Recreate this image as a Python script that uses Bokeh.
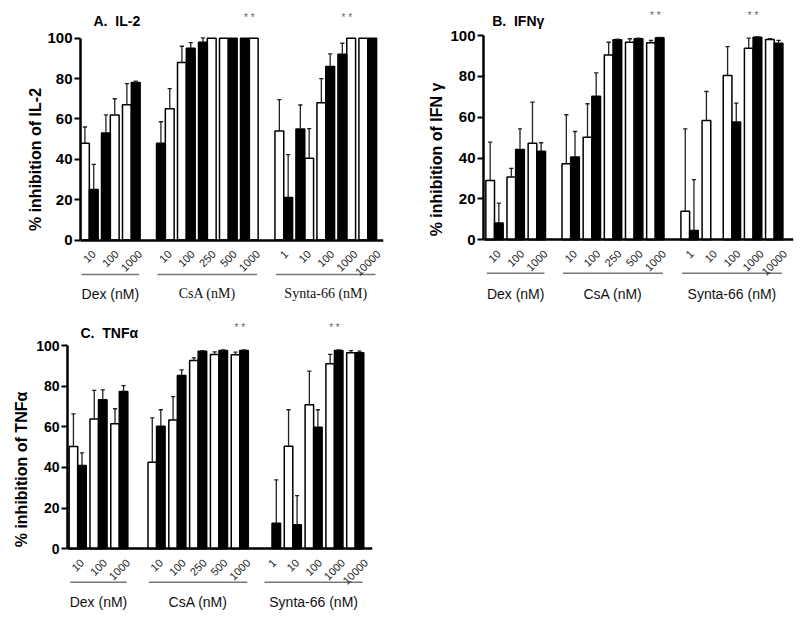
import math
from bokeh.plotting import figure
from bokeh.models import Range1d, FixedTicker
from bokeh.core.properties import value
from bokeh.layouts import column, row
from bokeh.embed import file_html
from bokeh.resources import INLINE

# ---------------- data ----------------
dex_conc = ["10", "100", "1000"]
csa_conc = ["10", "100", "250", "500", "1000"]
synta_conc = ["1", "10", "100", "1000", "10000"]
group_names = ["Dex (nM)", "CsA (nM)", "Synta-66 (nM)"]

# Panel A: IL-2  (open = white bars, filled = black bars)
il2_dex_open = [48, 62, 67]
il2_dex_filled = [25, 53, 78]
il2_dex_open_sd = [8, 8, 10.5]
il2_dex_filled_sd = [12.5, 9, 0.7]
il2_dex_open_first = [True, False, True]

il2_csa_open = [65, 88, 100, 100, 100]
il2_csa_filled = [48, 95, 98, 100, 100]
il2_csa_open_sd = [10, 8, 0, 0, 0]
il2_csa_filled_sd = [10.6, 2.8, 2.2, 0, 0]
il2_csa_open_first = [False, True, False, True, False]

il2_syn_open = [54, 40.5, 68, 100, 100]
il2_syn_filled = [21, 55, 86, 92, 100]
il2_syn_open_sd = [15.6, 14.7, 12, 0, 0]
il2_syn_filled_sd = [21.3, 11.9, 6.2, 5.5, 0]
il2_syn_open_first = [True, False, True, False, True]

# Panel B: IFN-gamma
ifn_dex_open = [29, 30.7, 47.3]
ifn_dex_filled = [8.2, 44.2, 43.4]
ifn_dex_open_sd = [18.8, 4.3, 20.1]
ifn_dex_filled_sd = [9.8, 10.1, 4.1]

ifn_csa_open = [37.2, 50.2, 90.5, 96.7, 96.4]
ifn_csa_filled = [40.5, 70.3, 97.9, 98.4, 98.9]
ifn_csa_open_sd = [24, 16.4, 6.2, 1.7, 1.2]
ifn_csa_filled_sd = [12.5, 11.4, 0.3, 0.3, 0.2]

ifn_syn_open = [14, 58.4, 80.4, 93.8, 98]
ifn_syn_filled = [4.6, None, 57.6, 99.2, 96.2]
ifn_syn_open_sd = [40.3, 14.2, 14.2, 4.9, 0.5]
ifn_syn_filled_sd = [24.9, 0, 9.3, 0.2, 1.4]

# Panel C: TNF-alpha
tnf_dex_open = [50.3, 63.9, 61.5]
tnf_dex_filled = [41, 73.3, 77.4]
tnf_dex_open_sd = [16.1, 14, 7.4]
tnf_dex_filled_sd = [6.2, 4.9, 2.9]

tnf_csa_open = [42.6, 63.4, 92.6, 95.6, 95.4]
tnf_csa_filled = [60.3, 85.2, 97.2, 97.5, 97.5]
tnf_csa_open_sd = [21.8, 11.5, 1.3, 1.3, 1.3]
tnf_csa_filled_sd = [8.1, 2.8, 0.3, 0.3, 0.3]

tnf_syn_open = [None, 50.5, 70.8, 91, 96.4]
tnf_syn_filled = [12.6, 11.8, 59.8, 97.5, 96.4]
tnf_syn_open_sd = [0, 17.9, 16.6, 4.6, 1.1]
tnf_syn_filled_sd = [21.3, 14.4, 8.6, 0.3, 0.8]

# significance marks: (group index, pair index)
stars = [(1, 4), (2, 3)]

SANS = "Liberation Sans"
SERIF = "Liberation Serif"


def grp(labels, o, f, osd, fsd, first=None):
    return dict(labels=labels, open=o, filled=f, open_sd=osd, filled_sd=fsd,
                open_first=first if first is not None else [True] * len(labels))


def build(title, ylabel, groups, lay, group_fonts):
    bw = lay["bw"]
    h, w, ml, mr = lay["h"], lay["w"], lay["ml"], lay["mr"]
    upp = 100.0 / (lay["p0"] - lay["p100"])          # data units per pixel (y)
    y_max = 100 + lay["p100"] * upp
    y_min = -(h - lay["p0"]) * upp
    xpp = lay["x_end"] / (w - ml - mr)               # data units per pixel (x)

    def yd(px):
        return 100 + (lay["p100"] - px) * upp

    def xd(px):
        return (px - ml) * xpp

    p = figure(width=w, height=h, output_backend="svg", toolbar_location=None,
               x_range=Range1d(0, lay["x_end"]), y_range=Range1d(y_min, y_max),
               min_border_left=ml, min_border_right=mr,
               min_border_top=0, min_border_bottom=0)
    p.outline_line_color = None
    p.grid.visible = False
    p.background_fill_color = "white"
    p.border_fill_color = "white"

    xo, yo, xf, yf = [], [], [], []
    ex, ey0, ey1 = [], [], []
    ticks, overrides = [], {}
    spans, pair_centers = [], []
    for g, G in enumerate(groups):
        start = lay["starts"][g]
        centers = []
        for k, lab in enumerate(G["labels"]):
            left = start + k
            if G["open_first"][k]:
                cx_o, cx_f = left + bw / 2, left + 1.5 * bw
            else:
                cx_f, cx_o = left + bw / 2, left + 1.5 * bw
            c = left + bw
            # rotated labels are anchored at their end; shift so the label is centred on the pair
            t = c + 0.354 * len(lab) * 6.12 * xpp
            ticks.append(t)
            overrides[t] = lab
            centers.append(c)
            for cx, val, sd, xs, ys in ((cx_o, G["open"][k], G["open_sd"][k], xo, yo),
                                        (cx_f, G["filled"][k], G["filled_sd"][k], xf, yf)):
                if val is None:
                    continue
                xs.append(cx)
                ys.append(val)
                if sd and sd > 0:
                    ex.append(cx)
                    ey0.append(val)
                    ey1.append(val + sd)
        spans.append((start, start + len(G["labels"]) - 1 + 2 * bw))
        pair_centers.append(centers)

    p.vbar(x=xo, top=yo, width=bw, fill_color="white", line_color="black", line_width=1.5)
    p.vbar(x=xf, top=yf, width=bw, fill_color="black", line_color="black", line_width=1.5)
    cap = 0.1
    p.segment(x0=ex, y0=ey0, x1=ex, y1=ey1, line_color="#222222", line_width=1.3)
    p.segment(x0=[x - cap for x in ex], y0=ey1, x1=[x + cap for x in ex], y1=ey1,
              line_color="#222222", line_width=1.3)

    yax = p.yaxis[0]
    yax.ticker = FixedTicker(ticks=[0, 20, 40, 60, 80, 100])
    yax.bounds = (0, 100)
    yax.axis_label = ylabel
    yax.axis_label_text_font = SANS
    yax.axis_label_text_font_style = "bold"
    yax.axis_label_text_font_size = "16px"
    yax.axis_label_text_color = "black"
    yax.axis_label_standoff = lay["yls"]
    yax.major_label_text_font = SANS
    yax.major_label_text_font_style = "bold"
    yax.major_label_text_font_size = lay["ytfs"]
    yax.major_label_text_color = "black"
    yax.major_label_standoff = 2
    yax.axis_line_width = 2.5
    yax.axis_line_color = "black"
    yax.major_tick_line_width = 2
    yax.major_tick_line_color = "black"
    yax.major_tick_out = 6
    yax.major_tick_in = 0
    yax.minor_tick_line_color = None

    xax = p.xaxis[0]
    xax.fixed_location = 0
    xax.ticker = FixedTicker(ticks=ticks)
    xax.major_label_overrides = overrides
    xax.major_label_orientation = math.pi / 4
    xax.major_label_text_font = SANS
    xax.major_label_text_font_size = "11px"
    xax.major_label_text_color = "#222222"
    xax.major_label_standoff = 6
    xax.major_tick_line_color = None
    xax.minor_tick_line_color = None
    xax.axis_line_width = 2.5
    xax.axis_line_color = "black"

    # panel title
    p.text(x=[xd(lay["tx"])], y=[yd(lay["ty"])], text=[title], text_font=value(SANS),
           text_font_style="bold", text_font_size="14px", text_color="black",
           text_align="left", text_baseline="middle")
    # significance stars
    p.text(x=[pair_centers[g][k] for g, k in stars], y=[yd(lay["sy"])] * len(stars),
           text=["* *"] * len(stars), text_font=value(SANS), text_font_size="10px",
           text_color="#666666", text_align="center", text_baseline="middle")
    # group brackets and names
    ly = yd(lay["ly"])
    p.segment(x0=[a + 0.05 for a, b in spans], y0=[ly] * len(spans),
              x1=[b - 0.05 for a, b in spans], y1=[ly] * len(spans),
              line_color="#777777", line_width=1.5)
    for g, (a, b) in enumerate(spans):
        p.text(x=[(a + b) / 2], y=[yd(lay["ny"])], text=[group_names[g]],
               text_font=value(group_fonts[g]), text_font_size="14px",
               text_color="#111111", text_align="center", text_baseline="middle")
    return p


layA = dict(w=400, h=318, ml=80, mr=17, p100=37.7, p0=239.5, x_end=14.43, bw=0.42,
            starts=[0.0, 3.62, 9.26], yls=0, ytfs="15px",
            tx=93, ty=20, sy=17, ly=274, ny=293)
layB = dict(w=400, h=318, ml=83, mr=7, p100=35, p0=239.3, x_end=14.65, bw=0.41,
            starts=[0.11, 3.71, 9.33], yls=2, ytfs="15px",
            tx=91.7, ty=20, sy=15.3, ly=272.7, ny=293)
layC = dict(w=400, h=302, ml=67, mr=28, p100=27, p0=230.3, x_end=14.66, bw=0.41,
            starts=[0.08, 3.87, 9.42], yls=3, ytfs="14px",
            tx=80, ty=14.3, sy=9, ly=263.7, ny=283.7)

pA = build("A.\u00a0 IL-2", "% inhibition of IL-2", [
    grp(dex_conc, il2_dex_open, il2_dex_filled, il2_dex_open_sd, il2_dex_filled_sd, il2_dex_open_first),
    grp(csa_conc, il2_csa_open, il2_csa_filled, il2_csa_open_sd, il2_csa_filled_sd, il2_csa_open_first),
    grp(synta_conc, il2_syn_open, il2_syn_filled, il2_syn_open_sd, il2_syn_filled_sd, il2_syn_open_first),
], layA, [SANS, SERIF, SERIF])

pB = build("B.\u00a0 IFNγ", "% inhibition of IFN γ", [
    grp(dex_conc, ifn_dex_open, ifn_dex_filled, ifn_dex_open_sd, ifn_dex_filled_sd),
    grp(csa_conc, ifn_csa_open, ifn_csa_filled, ifn_csa_open_sd, ifn_csa_filled_sd),
    grp(synta_conc, ifn_syn_open, ifn_syn_filled, ifn_syn_open_sd, ifn_syn_filled_sd),
], layB, [SANS, SANS, SANS])

pC = build("C.\u00a0 TNFα", "% inhibition of TNFα", [
    grp(dex_conc, tnf_dex_open, tnf_dex_filled, tnf_dex_open_sd, tnf_dex_filled_sd),
    grp(csa_conc, tnf_csa_open, tnf_csa_filled, tnf_csa_open_sd, tnf_csa_filled_sd),
    grp(synta_conc, tnf_syn_open, tnf_syn_filled, tnf_syn_open_sd, tnf_syn_filled_sd),
], layC, [SANS, SANS, SANS])

layout = column(row(pA, pB), pC)
open("out.html", "w").write(file_html(layout, INLINE))
